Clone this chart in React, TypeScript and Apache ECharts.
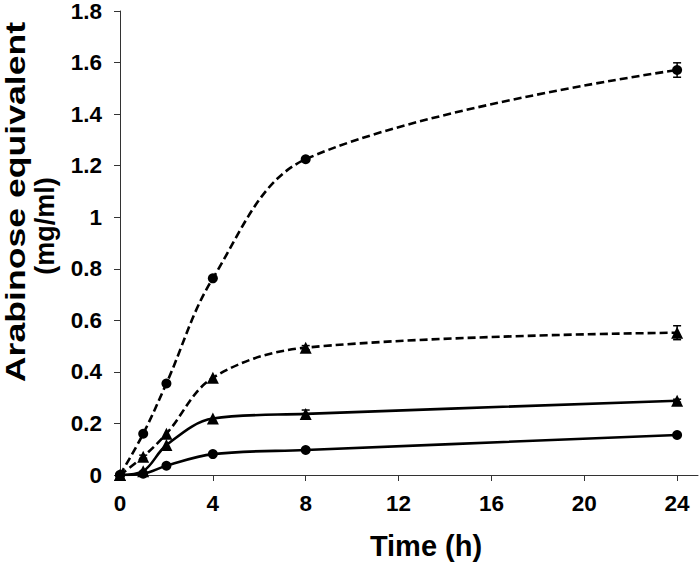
import React, { useEffect, useRef } from "react";
import * as echarts from "echarts";

// Time points (h)
const hours = [0, 1, 2, 4, 8, 24];
// Arabinose equivalent (mg/ml)
const dashedCircle = [0, 0.16, 0.355, 0.763, 1.225, 1.571];
const dashedTriangle = [0, 0.071, 0.16, 0.377, 0.494, 0.552];
const solidTriangle = [0, 0.015, 0.116, 0.219, 0.237, 0.288];
const solidCircle = [0, 0.005, 0.036, 0.081, 0.097, 0.155];
// Standard deviations
const dashedCircleErr = [0, 0, 0, 0, 0.006, 0.028];
const dashedTriangleErr = [0, 0.006, 0, 0, 0.008, 0.027];
const solidTriangleErr = [0, 0, 0, 0, 0.015, 0.006];
const solidCircleErr = [0, 0, 0, 0, 0, 0];

const xTicks = [0, 4, 8, 12, 16, 20, 24];
const yTicks = [0, 0.2, 0.4, 0.6, 0.8, 1, 1.2, 1.4, 1.6, 1.8];

const FONT = "'Liberation Sans', Arial, Helvetica, sans-serif";

const pairs = (vals: number[]) => hours.map((h, i) => [h, vals[i]]);
const errPairs = (vals: number[], errs: number[]) =>
  hours
    .map((h, i) => [h, vals[i] - errs[i], vals[i] + errs[i], errs[i]])
    .filter((d) => d[3] > 0);

function lineSeries(name: string, vals: number[], dashed: boolean, symbol: string) {
  return {
    name,
    type: "line",
    data: pairs(vals),
    smooth: 0.35,
    symbol,
    symbolSize: symbol === "triangle" ? 12 : 10,
    itemStyle: { color: "#000" },
    lineStyle: { color: "#000", width: 2.6, type: dashed ? [8, 4] : "solid" },
    z: 3,
  };
}

function errorSeries(vals: number[], errs: number[]) {
  return {
    type: "custom",
    data: errPairs(vals, errs),
    encode: { x: 0, y: [1, 2] },
    z: 2,
    renderItem: (_params: any, api: any) => {
      const x = api.value(0);
      const lo = api.coord([x, api.value(1)]);
      const hi = api.coord([x, api.value(2)]);
      const w = 4;
      const style = { stroke: "#000", lineWidth: 1.5 };
      return {
        type: "group",
        children: [
          { type: "line", shape: { x1: lo[0], y1: lo[1], x2: hi[0], y2: hi[1] }, style },
          { type: "line", shape: { x1: lo[0] - w, y1: lo[1], x2: lo[0] + w, y2: lo[1] }, style },
          { type: "line", shape: { x1: hi[0] - w, y1: hi[1], x2: hi[0] + w, y2: hi[1] }, style },
        ],
      };
    },
  };
}

export default function App() {
  const ref = useRef<HTMLDivElement>(null);
  useEffect(() => {
    if (!ref.current) return;
    const chart = echarts.init(ref.current, undefined, { renderer: "svg" });
    chart.setOption({
      animation: false,
      backgroundColor: "#fff",
      grid: { left: 120, right: 2, top: 11, bottom: 91, outerBoundsMode: "none" },
      xAxis: {
        type: "value",
        min: 0,
        max: 24.9,
        interval: 4,
        axisLine: { show: true, lineStyle: { color: "#333", width: 1 } },
        axisTick: { show: true, length: 6, inside: false, customValues: xTicks, lineStyle: { color: "#333" } },
        axisLabel: {
          customValues: xTicks,
          formatter: (v: number) => (xTicks.indexOf(v) >= 0 ? String(v) : ""),
          fontSize: 22.5,
          fontWeight: "bold",
          fontFamily: FONT,
          color: "#000",
          margin: 17,
        },
        splitLine: { show: false },
      },
      yAxis: {
        type: "value",
        min: 0,
        max: 1.8,
        interval: 0.2,
        axisLine: { show: true, lineStyle: { color: "#333", width: 1 } },
        axisTick: { show: true, length: 6, inside: false, customValues: yTicks, lineStyle: { color: "#333" } },
        axisLabel: {
          customValues: yTicks,
          formatter: (v: number) => String(Math.round(v * 10) / 10),
          fontSize: 22.5,
          fontWeight: "bold",
          fontFamily: FONT,
          color: "#000",
          margin: 18,
        },
        splitLine: { show: false },
      },
      graphic: [
        {
          type: "text",
          x: 426,
          y: 546,
          style: {
            text: "Time (h)",
            fontSize: 29,
            fontWeight: "bold",
            fontFamily: FONT,
            fill: "#000",
            align: "center",
            verticalAlign: "middle",
          },
        },
        {
          type: "text",
          x: 16,
          y: 202,
          rotation: Math.PI / 2,
          scaleX: 1.32,
          style: {
            text: "Arabinose equivalent",
            fontSize: 27,
            fontWeight: "bold",
            fontFamily: FONT,
            fill: "#000",
            align: "center",
            verticalAlign: "middle",
          },
        },
        {
          type: "text",
          x: 45,
          y: 226,
          rotation: Math.PI / 2,
          style: {
            text: "(mg/ml)",
            fontSize: 27,
            fontWeight: "bold",
            fontFamily: FONT,
            fill: "#000",
            align: "center",
            verticalAlign: "middle",
          },
        },
      ],
      series: [
        lineSeries("Dashed circle", dashedCircle, true, "circle"),
        lineSeries("Dashed triangle", dashedTriangle, true, "triangle"),
        lineSeries("Solid triangle", solidTriangle, false, "triangle"),
        lineSeries("Solid circle", solidCircle, false, "circle"),
        errorSeries(dashedCircle, dashedCircleErr),
        errorSeries(dashedTriangle, dashedTriangleErr),
        errorSeries(solidTriangle, solidTriangleErr),
        errorSeries(solidCircle, solidCircleErr),
      ],
    });
    return () => chart.dispose();
  }, []);
  return (
    <div
      ref={ref}
      style={{ position: "absolute", left: 0, top: 0, width: 700, height: 566 }}
    />
  );
}
